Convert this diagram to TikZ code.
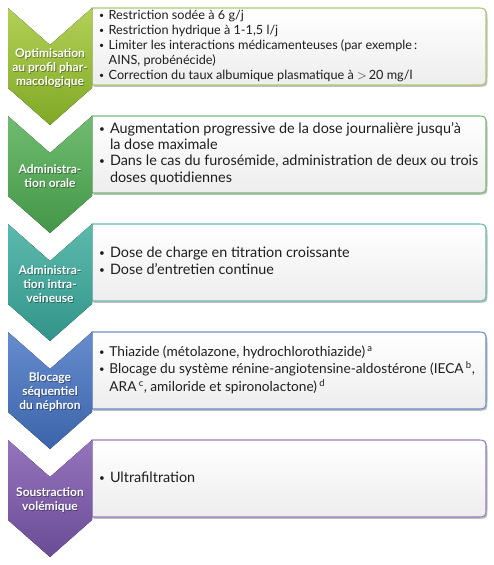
\documentclass[tikz,border=0pt]{standalone}
\usepackage{fontspec}
\usepackage{graphicx}
\setmainfont{Lato}
\usetikzlibrary{shadows}
\definecolor{c1top}{RGB}{178,208,86}\definecolor{c1bot}{RGB}{128,168,38}\definecolor{c1line}{RGB}{172,200,110}
\definecolor{c2top}{RGB}{112,188,112}\definecolor{c2bot}{RGB}{68,150,72}\definecolor{c2line}{RGB}{118,186,118}
\definecolor{c3top}{RGB}{92,186,172}\definecolor{c3bot}{RGB}{50,148,138}\definecolor{c3line}{RGB}{105,185,175}
\definecolor{c4top}{RGB}{102,140,206}\definecolor{c4bot}{RGB}{60,100,170}\definecolor{c4line}{RGB}{110,140,200}
\definecolor{c5top}{RGB}{148,116,188}\definecolor{c5bot}{RGB}{106,76,150}\definecolor{c5line}{RGB}{150,126,190}
\definecolor{boxtext}{RGB}{30,30,30}
\tikzset{
  chevron/.style={draw=none},
  stepbox/.style={line width=1.1pt, top color=white, bottom color=black!7,
     drop shadow={shadow xshift=1.5pt, shadow yshift=-1.8pt, opacity=0.25, fill=black}},
  chevlabel/.style={align=center, text=white, font=\large\bfseries, inner sep=0pt},
  chevshadow/.style={chevlabel, text=black, text opacity=0.35},
  boxlabel/.style={anchor=west, inner sep=0pt, text=boxtext, align=left, font=\Large}
}
\newcommand\bul{\raisebox{0.15ex}{\normalsize\textbullet}}
\newcommand\mystage[5]{%
  \draw[stepbox, draw=#3line] (92,#2) -- (476,#2) .. controls (486,#2) .. (486,#2+10)
     -- (486,#2+67) .. controls (486,#2+77) .. (476,#2+77) -- (92,#2+77) -- cycle;
  \fill[chevron, top color=#3top, bottom color=#3bot] (8,#2) -- (50,#2+37) -- (92,#2)
     -- (92,#2+80) -- (50,#2+117) -- (8,#2+80) -- cycle;
  \node[chevshadow] (#1labsh) at (50.8,#2+60.8) {#4};
  \node[chevlabel] (#1lab) at (50,#2+60) {#4};
  \node[boxlabel] (#1txt) at (99,#2+38.5) {#5};
}
\begin{document}
\begin{tikzpicture}[x=1pt,y=-1pt]
\useasboundingbox (0,0) rectangle (493,565);
\mystage{s5}{440}{c5}{Soustraction\\volémique}{%
  \begin{tabular}{@{}l@{\hspace{5pt}}l@{}}\bul & Ultrafiltration\end{tabular}}
\mystage{s4}{332}{c4}{Blocage\\séquentiel\\du néphron}{\renewcommand\arraystretch{1.0}%
  \scalebox{0.95}{\begin{tabular}{@{}l@{\hspace{5pt}}l@{}}
  \bul & Thiazide (métolazone, hydrochlorothiazide)\,\textsuperscript{a}\\
  \bul & Blocage du système rénine-angiotensine-aldostérone (IECA\,\textsuperscript{b},\\
       & ARA\,\textsuperscript{c}, amiloride et spironolactone)\,\textsuperscript{d}\end{tabular}}}
\mystage{s3}{224}{c3}{Administra-\\tion intra-\\veineuse}{\renewcommand\arraystretch{0.95}%
  \begin{tabular}{@{}l@{\hspace{5pt}}l@{}}
  \bul & Dose de charge en titration croissante\\
  \bul & Dose d’entretien continue\end{tabular}}
\mystage{s2}{116}{c2}{Administra-\\tion orale}{\renewcommand\arraystretch{0.9}%
  \begin{tabular}{@{}l@{\hspace{5pt}}l@{}}
  \bul & Augmentation progressive de la dose journalière jusqu’à\\
       & la dose maximale\\
  \bul & Dans le cas du furosémide, administration de deux ou trois\\
       & doses quotidiennes\end{tabular}}
\mystage{s1}{8}{c1}{Optimisation\\au profil phar-\\macologique}{\renewcommand\arraystretch{0.95}%
  \scalebox{0.88}{\begin{tabular}{@{}l@{\hspace{5pt}}l@{}}
  \bul & Restriction sodée à 6 g/j\\
  \bul & Restriction hydrique à 1-1,5 l/j\\
  \bul & Limiter les interactions médicamenteuses (par exemple\,:\\
       & AINS, probénécide)\\
  \bul & Correction du taux albumique plasmatique à ${>}\,$20 mg/l\end{tabular}}}
\end{tikzpicture}
\end{document}
